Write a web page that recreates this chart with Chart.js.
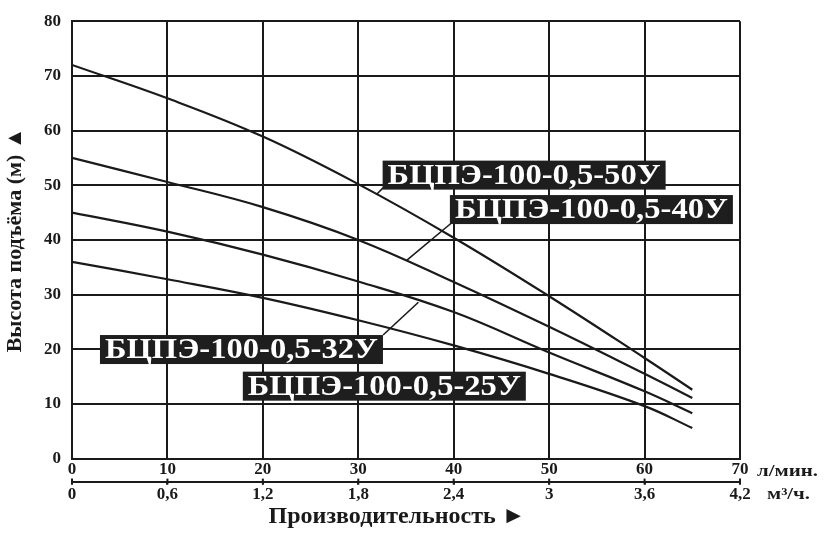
<!DOCTYPE html>
<html>
<head>
<meta charset="utf-8">
<script src="https://cdn.jsdelivr.net/npm/chart.js@4"></script>
<style>html,body{margin:0;padding:0;background:#fff}</style>
</head>
<body>
<canvas id="pumpChart" width="827" height="538"></canvas>
<script>
  // flow points (л/мин) and head (м) for each pump model
  const flowLpm = [0, 10, 20, 30, 40, 50, 60, 65];
  const head50 = [72, 65.9, 58.9, 50.2, 40.4, 29.7, 18.4, 12.6];
  const head40 = [55, 50.6, 46.0, 40.0, 32.3, 24.1, 15.5, 11.1];
  const head32 = [45, 41.5, 37.3, 32.4, 26.8, 19.4, 12.3, 8.3];
  const head25 = [36, 32.8, 29.4, 25.3, 20.7, 15.5, 9.6, 5.6];
  const modelNames = ['БЦПЭ-100-0,5-50У', 'БЦПЭ-100-0,5-40У', 'БЦПЭ-100-0,5-32У', 'БЦПЭ-100-0,5-25У'];
  const m3Ticks = ['0', '0,6', '1,2', '1,8', '2,4', '3', '3,6', '4,2'];

  const serif = '"Liberation Serif", "Times New Roman", serif';
  const ink = '#1a1a1a';

  // tag boxes, anchored in data units (box top-left, leader line ends)
  const tagPlaces = [
    { x: 32.55, y: 54.5, from: [32.75, 49.8], to: [31.9, 48.3] },
    { x: 39.6, y: 48.2, from: [39.7, 43.0], to: [35.1, 36.3] },
    { x: 2.93, y: 22.6, from: [32.6, 22.6], to: [36.3, 28.6] },
    { x: 17.9, y: 15.9 }
  ];

  const toPoints = (ys) => flowLpm.map((f, i) => ({ x: f, y: ys[i] }));
  const curve = (label, ys) => ({
    label: label,
    data: toPoints(ys),
    borderColor: ink,
    borderWidth: 2.2,
    pointRadius: 0,
    fill: false,
    tension: 0.4
  });

  // draws text squeezed/stretched to a given width
  function wideText(ctx, text, x, y, width) {
    const w = ctx.measureText(text).width;
    ctx.save();
    ctx.translate(x, y);
    ctx.scale(width / w, 1);
    ctx.fillText(text, 0, 0);
    ctx.restore();
  }

  const tagPlugin = {
    id: 'tags',
    afterDatasetsDraw(chart) {
      const { ctx } = chart;
      const x = chart.scales.x, y = chart.scales.y, x2 = chart.scales.x2;
      ctx.save();
      tagPlaces.forEach((t, i) => {
        if (t.from) {
          ctx.beginPath();
          ctx.moveTo(x.getPixelForValue(t.from[0]), y.getPixelForValue(t.from[1]));
          ctx.lineTo(x.getPixelForValue(t.to[0]), y.getPixelForValue(t.to[1]));
          ctx.strokeStyle = ink;
          ctx.lineWidth = 1.6;
          ctx.stroke();
        }
        const left = x.getPixelForValue(t.x);
        const top = y.getPixelForValue(t.y);
        ctx.fillStyle = '#1e1e1e';
        ctx.fillRect(left, top, 283, 29);
        ctx.font = 'bold 29px ' + serif;
        ctx.fillStyle = '#fff';
        ctx.textBaseline = 'middle';
        wideText(ctx, modelNames[i], left + 5, top + 15.5, 273);
      });

      // small cross ticks on the m³/ч axis
      ctx.strokeStyle = ink;
      ctx.lineWidth = 2;
      x2.ticks.forEach((tk) => {
        const px = x2.getPixelForValue(tk.value);
        ctx.beginPath();
        ctx.moveTo(px, x2.top - 3);
        ctx.lineTo(px, x2.top + 3);
        ctx.stroke();
      });

      // unit captions next to the two flow axes
      ctx.fillStyle = ink;
      ctx.textBaseline = 'middle';
      ctx.font = 'bold 16px ' + serif;
      wideText(ctx, 'л/мин.', x.right + 17, x.top + 13, 61);
      wideText(ctx, 'м³/ч.', x2.right + 27, x2.top + 13, 43);
      ctx.restore();
    }
  };

  const tickFont = { family: serif, size: 17, weight: 'bold' };

  new Chart(document.getElementById('pumpChart').getContext('2d'), {
    type: 'line',
    data: {
      datasets: [
        curve(modelNames[0], head50),
        curve(modelNames[1], head40),
        curve(modelNames[2], head32),
        curve(modelNames[3], head25)
      ]
    },
    options: {
      responsive: false,
      animation: false,
      layout: { padding: { top: 13, right: 87, bottom: 0, left: 0 } },
      plugins: {
        legend: { display: false },
        tooltip: { enabled: false }
      },
      scales: {
        x: {
          type: 'linear',
          position: 'bottom',
          min: 0,
          max: 70,
          ticks: { stepSize: 10, font: tickFont, color: ink, padding: 1, maxRotation: 0 },
          grid: { color: ink, lineWidth: 2, drawTicks: false },
          border: { display: true, color: ink, width: 2 },
          afterFit(scale) { scale.height = 23; }
        },
        x2: {
          type: 'linear',
          position: 'bottom',
          min: 0,
          max: 70,
          ticks: {
            stepSize: 10, font: tickFont, color: ink, padding: 0, maxRotation: 0,
            callback: (v, i) => m3Ticks[i]
          },
          grid: { drawOnChartArea: false, drawTicks: true, tickLength: 3, color: ink, lineWidth: 2 },
          border: { display: true, color: ink, width: 2 },
          title: {
            display: true,
            text: 'Производительность ►\u00a0\u00a0\u00a0',
            font: { family: serif, size: 24, weight: 'bold' },
            color: ink,
            padding: { top: 0, bottom: 7 }
          },
          afterFit(scale) { scale.height = 56.4; }
        },
        y: {
          min: 0,
          max: 80,
          ticks: { stepSize: 10, font: tickFont, color: ink, padding: 11 },
          grid: { color: ink, lineWidth: 2, drawTicks: false },
          border: { display: true, color: ink, width: 2 },
          title: {
            display: true,
            text: 'Высота подъёма (м) ▲',
            font: { family: serif, size: 22, weight: 'bold' },
            color: ink,
            padding: { top: 2, bottom: 0 }
          },
          afterFit(scale) { scale.width = 72; }
        }
      }
    },
    plugins: [tagPlugin]
  });
</script>
</body>
</html>
